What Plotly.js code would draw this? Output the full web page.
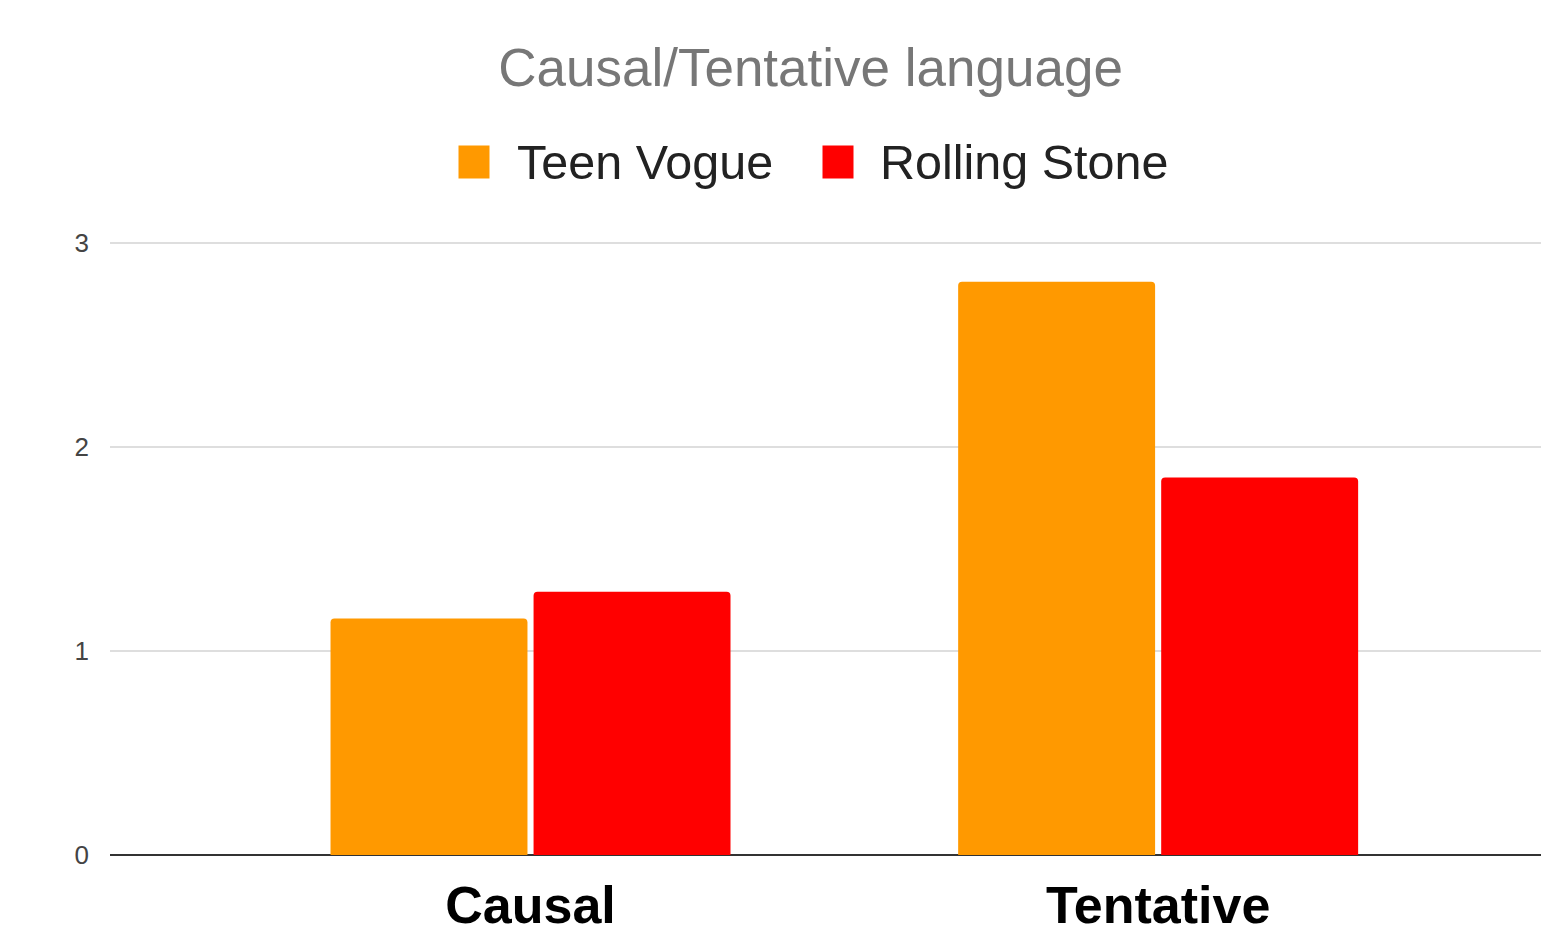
<!DOCTYPE html>
<html>
<head>
<meta charset="utf-8">
<script src="https://cdn.plot.ly/plotly-3.0.1.min.js"></script>
<style>html,body{margin:0;padding:0;background:#fff;}#chart{width:1541px;height:940px;}</style>
</head>
<body>
<div id="chart"></div>
<script>
const chartTitle = 'Causal/Tentative language';
const categories = ['Causal', 'Tentative'];
const seriesNames = ['Teen Vogue', 'Rolling Stone'];
const teenVogue = [1.16, 2.81];
const rollingStone = [1.29, 1.85];
const yTicks = [0, 1, 2, 3];
const colors = ['#ff9900', '#ff0000'];

const FONT = 'Liberation Sans, Arial, Helvetica, sans-serif';

const traces = [teenVogue, rollingStone].map((vals, i) => ({
  type: 'bar',
  name: seriesNames[i],
  x: categories,
  y: vals,
  marker: { color: colors[i], cornerradius: 4, line: { width: 0 } },
  hoverinfo: 'x+y+name'
}));

// custom legend (large square swatches)
const legendX = [[458, 515], [822, 878]]; // pixel positions: swatch left, text left
const plotL = 110, plotW = 1431, plotT = 241, plotH = 614;
const legY = (plotT + plotH - 162) / plotH;
const annotations = [];
seriesNames.forEach((n, i) => {
  annotations.push({
    xref: 'paper', yref: 'paper',
    x: (legendX[i][0] - plotL) / plotW, y: legY,
    xanchor: 'left', yanchor: 'middle',
    text: '\u00a0', showarrow: false,
    width: 30, height: 32, bgcolor: colors[i], borderpad: 0,
    font: { size: 10 }
  });
  annotations.push({
    xref: 'paper', yref: 'paper',
    x: (legendX[i][1] - plotL) / plotW, y: legY,
    xanchor: 'left', yanchor: 'middle',
    text: n, showarrow: false,
    font: { family: FONT, size: 48.5, color: '#222222' }
  });
});

const layout = {
  width: 1541, height: 940,
  paper_bgcolor: '#ffffff', plot_bgcolor: '#ffffff',
  margin: { l: 110, r: 0, t: 241, b: 85 },
  showlegend: false,
  title: {
    text: chartTitle,
    font: { family: FONT, size: 53, color: '#777777' },
    x: 0.526, xref: 'container', xanchor: 'center',
    y: 1 - 67 / 940, yref: 'container', yanchor: 'middle'
  },
  barmode: 'group',
  bargap: 0.353,
  bargroupgap: 0.03,
  xaxis: {
    type: 'category',
    range: [-0.67, 1.61],
    showgrid: false, zeroline: false, showline: false, ticks: '',
    tickfont: { family: FONT, size: 52, color: '#000000', weight: 'bold' },
    ticklabelstandoff: 15,
    fixedrange: true
  },
  yaxis: {
    range: [0, 3.01],
    tickvals: yTicks,
    ticktext: yTicks.map(String),
    showgrid: true, gridcolor: '#dedede', gridwidth: 2,
    zeroline: true, zerolinecolor: '#333333', zerolinewidth: 2,
    showline: false, ticks: '',
    tickfont: { family: FONT, size: 26, color: '#444444' },
    ticklabelstandoff: 20,
    fixedrange: true
  },
  annotations: annotations
};

Plotly.newPlot('chart', traces, layout, { displayModeBar: false, staticPlot: true });
</script>
</body>
</html>
